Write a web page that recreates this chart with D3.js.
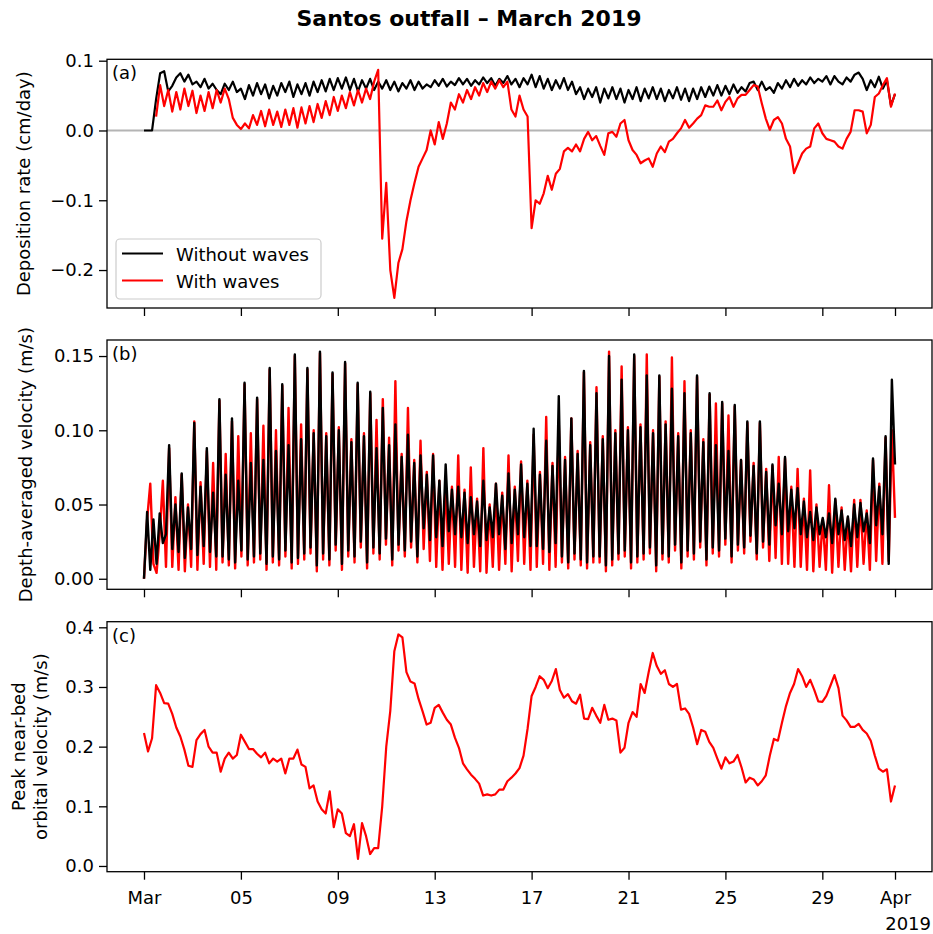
<!DOCTYPE html>
<html><head><meta charset="utf-8">
<script src="https://cdn.jsdelivr.net/npm/d3@7"></script>
<style>body{margin:0;background:#fff}svg{display:block}</style>
</head><body><div id="chart"></div>
<script>
// ---------------- DATA ----------------
const startUTC = Date.UTC(2019, 2, 1);   // 1 March 2019
const DAY = 86400000;
const periodDays = 31;

// (a) deposition rate, cm/day, 4-hourly from 1 March
const depoWithout = [
0,0,0,0.045,0.082,0.085,0.056,0.064,0.076,0.082,
0.07,0.08,0.066,0.07,0.062,0.074,0.06,0.067,0.058,0.052,
0.067,0.058,0.07,0.055,0.06,0.045,0.065,0.05,0.068,0.052,
0.066,0.046,0.064,0.05,0.068,0.055,0.07,0.048,0.066,0.052,
0.068,0.05,0.07,0.055,0.072,0.056,0.074,0.058,0.075,0.06,
0.076,0.058,0.074,0.056,0.072,0.06,0.074,0.058,0.07,0.06,
0.072,0.058,0.07,0.056,0.068,0.06,0.072,0.058,0.07,0.06,
0.066,0.062,0.072,0.064,0.074,0.063,0.07,0.065,0.075,0.066,
0.074,0.064,0.072,0.066,0.076,0.068,0.075,0.064,0.074,0.068,
0.078,0.066,0.074,0.062,0.075,0.066,0.08,0.062,0.078,0.06,
0.074,0.058,0.072,0.06,0.075,0.058,0.07,0.052,0.062,0.045,
0.06,0.048,0.062,0.04,0.06,0.046,0.062,0.045,0.06,0.04,
0.058,0.045,0.062,0.042,0.06,0.046,0.062,0.045,0.06,0.042,
0.058,0.046,0.062,0.044,0.06,0.042,0.06,0.045,0.062,0.048,
0.063,0.05,0.065,0.05,0.064,0.052,0.066,0.054,0.062,0.056,
0.068,0.07,0.058,0.07,0.058,0.062,0.054,0.068,0.06,0.072,
0.062,0.074,0.064,0.072,0.066,0.076,0.068,0.074,0.07,0.078,
0.066,0.078,0.07,0.066,0.076,0.07,0.08,0.083,0.074,0.058,
0.072,0.062,0.077,0.06,0.072,0.036,0.052];

const depoWith = [
null,null,null,0.02,0.065,0.035,0.058,0.027,0.055,0.03,
0.06,0.035,0.057,0.025,0.05,0.028,0.055,0.032,0.058,0.04,
0.06,0.045,0.018,0.008,0.002,0.01,0.003,0.022,0.008,0.028,
0.006,0.03,0.008,0.027,0.005,0.03,0.008,0.032,0.004,0.033,
0.01,0.035,0.012,0.038,0.018,0.042,0.022,0.048,0.028,0.05,
0.032,0.055,0.036,0.058,0.04,0.06,0.045,0.07,0.087,-0.155,
-0.075,-0.2,-0.24,-0.19,-0.17,-0.13,-0.1,-0.075,-0.052,-0.04,
-0.028,0.0,-0.02,0.012,-0.012,0.01,0.04,0.03,0.052,0.04,
0.058,0.045,0.062,0.05,0.068,0.055,0.07,0.06,0.072,0.062,
0.07,0.03,0.02,0.05,0.03,0.02,-0.14,-0.1,-0.105,-0.09,
-0.065,-0.085,-0.062,-0.055,-0.03,-0.025,-0.03,-0.02,-0.03,-0.012,
-0.002,-0.014,-0.008,-0.022,-0.035,-0.004,-0.002,-0.009,0.01,0.015,
-0.014,-0.028,-0.035,-0.047,-0.043,-0.04,-0.052,-0.033,-0.023,-0.031,
-0.016,-0.012,-0.004,0.003,0.015,0.004,0.01,0.017,0.022,0.036,
0.034,0.034,0.043,0.029,0.041,0.048,0.034,0.046,0.051,0.051,
0.058,0.065,0.063,0.039,0.017,0.001,0.015,0.019,0.01,-0.012,
-0.023,-0.061,-0.047,-0.033,-0.026,-0.023,0.003,0.01,-0.004,-0.012,
-0.014,-0.016,-0.023,-0.026,-0.012,-0.002,0.029,0.029,0.027,-0.004,
0.008,0.048,0.053,0.065,0.075,0.034,0.053];

// (b) depth-averaged velocity, m/s, sampled every quarter tidal cycle
const velWithout = [
0.000,0.045,0.006,0.040,0.010,0.044,0.024,0.030,
0.090,0.020,0.050,0.018, 0.071,0.014,0.048,0.020, 0.105,0.016,0.062,0.022, 0.088,0.018,0.058,0.015,
0.121,0.015,0.070,0.013, 0.108,0.011,0.066,0.019, 0.132,0.013,0.078,0.015, 0.122,0.017,0.080,0.010,
0.142,0.015,0.086,0.013, 0.131,0.019,0.090,0.011, 0.151,0.014,0.094,0.017, 0.142,0.021,0.098,0.009,
0.153,0.017,0.096,0.013, 0.139,0.023,0.100,0.010, 0.146,0.019,0.092,0.015, 0.132,0.025,0.096,0.011,
0.126,0.021,0.088,0.017, 0.115,0.027,0.090,0.013, 0.104,0.023,0.082,0.019, 0.097,0.025,0.078,0.015,
0.083,0.034,0.070,0.026, 0.083,0.028,0.066,0.022, 0.077,0.032,0.060,0.030, 0.062,0.028,0.058,0.024,
0.055,0.030,0.052,0.022, 0.066,0.026,0.048,0.028, 0.064,0.030,0.056,0.020, 0.071,0.024,0.060,0.030,
0.077,0.028,0.064,0.022, 0.101,0.022,0.070,0.020, 0.093,0.018,0.076,0.024, 0.123,0.015,0.080,0.011,
0.108,0.017,0.084,0.013, 0.140,0.011,0.090,0.015, 0.125,0.015,0.094,0.009, 0.150,0.013,0.098,0.017,
0.134,0.019,0.100,0.011, 0.151,0.015,0.102,0.017, 0.137,0.021,0.098,0.009, 0.137,0.017,0.104,0.015,
0.128,0.023,0.096,0.011, 0.125,0.019,0.098,0.017, 0.137,0.025,0.092,0.013, 0.125,0.021,0.090,0.019,
0.119,0.027,0.086,0.015, 0.117,0.023,0.080,0.021, 0.106,0.029,0.076,0.017, 0.106,0.025,0.072,0.023,
0.077,0.036,0.064,0.030, 0.082,0.032,0.060,0.034, 0.061,0.030,0.052,0.028, 0.045,0.026,0.048,0.030,
0.041,0.028,0.044,0.024, 0.054,0.030,0.046,0.026, 0.042,0.022,0.050,0.028, 0.051,0.032,0.044,0.024,
0.081,0.036,0.062,0.030, 0.096,0.010,0.134,0.077];

const velWith = [
0.000,0.040,0.064,0.010,0.004,0.030,0.066,0.008,
0.088,0.008,0.055,0.006, 0.070,0.005,0.050,0.008, 0.106,0.006,0.065,0.010, 0.086,0.008,0.078,0.006,
0.120,0.011,0.084,0.009, 0.106,0.007,0.096,0.015, 0.131,0.009,0.098,0.011, 0.121,0.013,0.103,0.006,
0.141,0.011,0.100,0.009, 0.130,0.015,0.115,0.007, 0.150,0.010,0.104,0.013, 0.141,0.017,0.100,0.005,
0.152,0.013,0.098,0.009, 0.138,0.019,0.102,0.006, 0.145,0.015,0.094,0.011, 0.131,0.021,0.098,0.007,
0.125,0.017,0.107,0.013, 0.121,0.023,0.095,0.009, 0.133,0.019,0.084,0.015, 0.115,0.021,0.080,0.011,
0.093,0.020,0.072,0.012, 0.084,0.008,0.066,0.006, 0.066,0.010,0.062,0.008, 0.083,0.006,0.060,0.004,
0.075,0.008,0.054,0.005, 0.088,0.004,0.050,0.008, 0.064,0.006,0.058,0.010, 0.083,0.005,0.062,0.012,
0.079,0.010,0.066,0.006, 0.097,0.008,0.072,0.010, 0.109,0.006,0.078,0.008, 0.105,0.011,0.082,0.007,
0.108,0.013,0.086,0.009, 0.139,0.007,0.092,0.011, 0.129,0.011,0.096,0.005, 0.153,0.009,0.100,0.013,
0.143,0.015,0.102,0.007, 0.150,0.011,0.104,0.013, 0.151,0.017,0.100,0.005, 0.136,0.013,0.106,0.011,
0.149,0.019,0.098,0.007, 0.133,0.015,0.100,0.013, 0.136,0.021,0.094,0.009, 0.124,0.017,0.118,0.015,
0.118,0.023,0.110,0.011, 0.116,0.019,0.080,0.017, 0.105,0.025,0.078,0.013, 0.105,0.021,0.074,0.012,
0.076,0.014,0.082,0.010, 0.081,0.010,0.062,0.008, 0.074,0.008,0.054,0.006, 0.073,0.005,0.050,0.008,
0.040,0.006,0.063,0.004, 0.053,0.008,0.048,0.006, 0.041,0.005,0.053,0.008, 0.053,0.010,0.046,0.006,
0.080,0.012,0.064,0.010, 0.095,0.012,0.100,0.041];

// (c) peak near-bed orbital velocity, m/s, 4-hourly
const orbital = [
0.223,0.192,0.214,0.303,0.29,0.273,0.272,0.255,0.232,0.217,
0.195,0.168,0.166,0.211,0.221,0.228,0.2,0.19,0.19,0.158,
0.18,0.19,0.18,0.186,0.22,0.208,0.196,0.196,0.188,0.182,
0.19,0.172,0.18,0.175,0.18,0.155,0.18,0.18,0.195,0.17,
0.166,0.13,0.135,0.108,0.095,0.088,0.125,0.065,0.095,0.088,
0.055,0.05,0.07,0.012,0.072,0.05,0.02,0.03,0.03,0.1,
0.2,0.26,0.36,0.388,0.383,0.325,0.309,0.306,0.28,0.259,
0.237,0.24,0.265,0.27,0.257,0.245,0.237,0.215,0.198,0.172,
0.162,0.153,0.146,0.138,0.118,0.12,0.118,0.12,0.128,0.128,
0.142,0.148,0.155,0.164,0.185,0.23,0.285,0.3,0.318,0.312,
0.298,0.31,0.33,0.295,0.282,0.288,0.276,0.272,0.287,0.247,
0.246,0.265,0.252,0.24,0.27,0.245,0.247,0.244,0.19,0.198,
0.24,0.258,0.25,0.305,0.29,0.325,0.357,0.335,0.322,0.328,
0.305,0.3,0.305,0.262,0.264,0.255,0.232,0.204,0.228,0.225,
0.208,0.198,0.18,0.163,0.182,0.172,0.175,0.186,0.165,0.14,
0.148,0.145,0.135,0.142,0.152,0.185,0.213,0.21,0.24,0.268,
0.29,0.305,0.33,0.318,0.3,0.312,0.295,0.276,0.275,0.285,
0.302,0.32,0.298,0.252,0.244,0.233,0.233,0.238,0.228,0.222,
0.21,0.185,0.163,0.158,0.162,0.108,0.135];

const xTickDays = [0, 4, 8, 12, 16, 20, 24, 28, 31];
const xTickLabels = ["Mar", "05", "09", "13", "17", "21", "25", "29", "Apr"];
const yTicksA = [0.1, 0.0, -0.1, -0.2];
const yTicksB = [0.00, 0.05, 0.10, 0.15];
const yTicksC = [0.0, 0.1, 0.2, 0.3, 0.4];
const seriesNames = ["Without waves", "With waves"];
const panelLetters = ["(a)", "(b)", "(c)"];

// ---------------- LAYOUT ----------------
const W = 933, H = 934;
const L = 107, R = 932;
const FONT = "DejaVu Sans";
const panels = [
  {top: 59.3, bottom: 308, domain: [-0.2544, 0.102], ticks: yTicksA, fmt: ".1f"},
  {top: 340, bottom: 589.3, domain: [-0.0071, 0.1608], ticks: yTicksB, fmt: ".2f"},
  {top: 621.7, bottom: 871.7, domain: [-0.0096, 0.4094], ticks: yTicksC, fmt: ".1f"}
];

const svg = d3.select("#chart").append("svg")
  .attr("width", W).attr("height", H)
  .attr("font-family", FONT);
svg.append("rect").attr("width", W).attr("height", H).attr("fill", "#fff");

const toDate = t => new Date(startUTC + t * DAY);
const x = d3.scaleUtc()
  .domain([toDate(-1.527), toDate(periodDays + 1.527)])
  .range([L, R]);

const ys = panels.map(p => d3.scaleLinear().domain(p.domain).range([p.bottom, p.top]));

function series(arr) {
  const step = periodDays / (arr.length - 1);
  return arr.map((v, i) => ({t: toDate(i * step), v}));
}

panels.forEach((p, k) => {
  const y = ys[k];
  const g = svg.append("g");
  const xa = d3.axisBottom(x)
    .tickValues(xTickDays.map(toDate))
    .tickSize(8).tickPadding(12)
    .tickFormat((d, i) => k === 2 ? xTickLabels[i] : "");
  const gx = g.append("g").attr("transform", `translate(0,${p.bottom})`).call(xa);
  gx.select(".domain").remove();
  gx.selectAll("line").attr("stroke", "#000").attr("stroke-width", 1.3);
  gx.selectAll("text").attr("font-size", 18).attr("font-family", FONT).attr("fill", "#000");
  const ya = d3.axisLeft(y).tickValues(p.ticks).tickSize(8).tickPadding(5)
    .tickFormat(d3.format(p.fmt));
  const gy = g.append("g").attr("transform", `translate(${L},0)`).call(ya);
  gy.select(".domain").remove();
  gy.selectAll("line").attr("stroke", "#000").attr("stroke-width", 1.3);
  gy.selectAll("text").attr("font-size", 18).attr("font-family", FONT).attr("fill", "#000");
});

// zero line in (a)
svg.append("line")
  .attr("x1", L).attr("x2", R)
  .attr("y1", ys[0](0)).attr("y2", ys[0](0))
  .attr("stroke", "#b4b4b4").attr("stroke-width", 2);

function drawLine(arr, y, color, w) {
  const line = d3.line().defined(d => d.v != null)
    .x(d => x(d.t)).y(d => y(d.v));
  svg.append("path").datum(series(arr))
    .attr("d", line).attr("fill", "none")
    .attr("stroke", color).attr("stroke-width", w)
    .attr("stroke-linejoin", "round");
}

// (a)
drawLine(depoWithout, ys[0], "#000", 2.2);
drawLine(depoWith, ys[0], "#ff0000", 2.2);
// (b)
drawLine(velWith, ys[1], "#ff0000", 2.4);
drawLine(velWithout, ys[1], "#000", 2.4);
// (c)
drawLine(orbital, ys[2], "#ff0000", 2.2);

// frames
panels.forEach(p => {
  svg.append("rect").attr("x", L).attr("y", p.top)
    .attr("width", R - L).attr("height", p.bottom - p.top)
    .attr("fill", "none").attr("stroke", "#000").attr("stroke-width", 1.3);
});

// panel letters
panels.forEach((p, k) => {
  svg.append("text").attr("x", 112).attr("y", p.top + 20)
    .attr("font-size", 18).text(panelLetters[k]);
});

// legend
const lg = svg.append("g");
lg.append("rect").attr("x", 116).attr("y", 239).attr("width", 205).attr("height", 60)
  .attr("rx", 4).attr("fill", "#fff").attr("fill-opacity", 0.8)
  .attr("stroke", "#cccccc").attr("stroke-width", 1.2);
[["#000", 253.5, 260.5], ["#ff0000", 280.5, 287.5]].forEach((s, i) => {
  lg.append("line").attr("x1", 122).attr("x2", 163).attr("y1", s[1]).attr("y2", s[1])
    .attr("stroke", s[0]).attr("stroke-width", 2.2);
  lg.append("text").attr("x", 176).attr("y", s[2]).attr("font-size", 18).text(seriesNames[i]);
});

// year label
svg.append("text").attr("x", 931).attr("y", 930).attr("text-anchor", "end")
  .attr("font-size", 18).text("2019");

// y labels
function ylab(xp, yc, txt) {
  svg.append("text").attr("transform", `translate(${xp},${yc}) rotate(-90)`)
    .attr("text-anchor", "middle").attr("font-size", 18).text(txt);
}
ylab(29.5, (panels[0].top + panels[0].bottom) / 2, "Deposition rate (cm/day)");
ylab(31.5, (panels[1].top + panels[1].bottom) / 2, "Depth-averaged velocity (m/s)");
ylab(25, (panels[2].top + panels[2].bottom) / 2, "Peak near-bed");
ylab(46.5, (panels[2].top + panels[2].bottom) / 2, "orbital velocity (m/s)");

// title
svg.append("text").attr("x", 469).attr("y", 26).attr("text-anchor", "middle")
  .attr("font-size", 22).attr("font-weight", "bold").text("Santos outfall – March 2019");
</script>
</body></html>
